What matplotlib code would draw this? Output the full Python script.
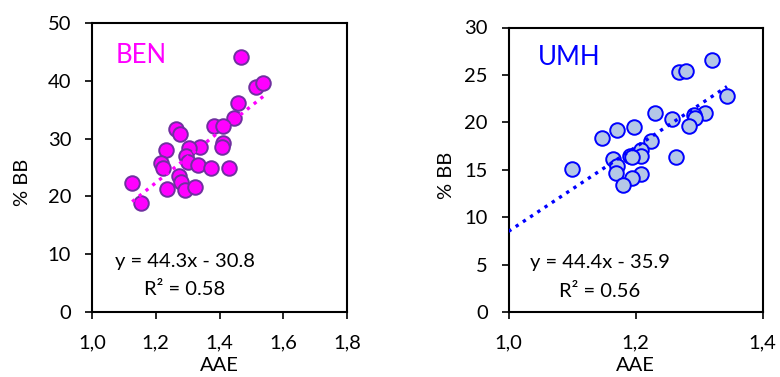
import matplotlib
matplotlib.use("Agg")
import matplotlib.pyplot as plt
import numpy as np

plt.rcParams['font.family'] = ['Lato', 'DejaVu Sans']

# BEN site: absorption Angstrom exponent vs. % biomass burning
ben_aae = [1.468, 1.515, 1.537, 1.457, 1.445, 1.382, 1.412, 1.262, 1.277, 1.410,
           1.408, 1.340, 1.304, 1.231, 1.296, 1.301, 1.216, 1.223, 1.332, 1.374,
           1.431, 1.272, 1.280, 1.126, 1.236, 1.293, 1.322, 1.155]
ben_bb = [44.2, 39.0, 39.6, 36.1, 33.5, 32.2, 32.1, 31.7, 30.8, 29.3,
          28.5, 28.6, 28.3, 28.0, 27.0, 26.0, 25.8, 24.9, 25.4, 25.0,
          25.0, 23.6, 22.5, 22.4, 21.3, 21.1, 21.6, 18.9]
ben_slope, ben_icpt, ben_r2 = 44.3, -30.8, 0.58

# UMH site
umh_aae = [1.321, 1.268, 1.280, 1.344, 1.231, 1.310, 1.292, 1.258, 1.293, 1.284,
           1.197, 1.171, 1.147, 1.225, 1.209, 1.208, 1.191, 1.195, 1.264, 1.164,
           1.171, 1.169, 1.100, 1.209, 1.195, 1.181]
umh_bb = [26.6, 25.3, 25.4, 22.8, 21.0, 21.0, 20.8, 20.4, 20.5, 19.6,
          19.5, 19.2, 18.4, 18.0, 17.1, 16.4, 16.5, 16.3, 16.3, 16.1,
          15.4, 14.7, 15.1, 14.6, 14.1, 13.4]
umh_slope, umh_icpt, umh_r2 = 44.4, -35.9, 0.56

ben_xticks = [1.0, 1.2, 1.4, 1.6, 1.8]
ben_yticks = [0, 10, 20, 30, 40, 50]
umh_xticks = [1.0, 1.2, 1.4]
umh_yticks = [0, 5, 10, 15, 20, 25, 30]

fig = plt.figure(figsize=(7.8, 3.77), dpi=100)
ax1 = fig.add_axes([92 / 780, 65 / 377, 255 / 780, 289 / 377])
ax2 = fig.add_axes([508.5 / 780, 65 / 377, 254 / 780, 284.5 / 377])

FS = 14.5


def style(ax, xticks, yticks, xlab_y, ylab_x, ylab_y):
    ax.set_xlim(xticks[0], xticks[-1])
    ax.set_ylim(yticks[0], yticks[-1])
    ax.set_xticks(xticks)
    ax.set_yticks(yticks)
    ax.set_xticklabels([f"{t:.1f}".replace('.', ',') for t in xticks])
    ax.set_yticklabels([str(t) for t in yticks])
    for s in ax.spines.values():
        s.set_linewidth(1.5)
        s.set_color('black')
    ax.tick_params(direction='out', length=5, width=1.2, labelsize=FS,
                   top=False, right=False)
    ax.tick_params(axis='x', pad=11)
    ax.tick_params(axis='y', pad=10)
    ax.set_xlabel('AAE', fontsize=FS, va='center')
    ax.set_ylabel('% BB', fontsize=FS, va='center')
    ax.xaxis.set_label_coords(0.5, xlab_y)
    ax.yaxis.set_label_coords(ylab_x, ylab_y)


# BEN panel
ax1.scatter(ben_aae, ben_bb, s=110, c='#FF00FF', edgecolors='#7030A0',
            linewidths=1.4, zorder=3)
xl = np.array([min(ben_aae), max(ben_aae)])
ax1.plot(xl, ben_slope * xl + ben_icpt, color='#FF00FF', lw=2.4,
         linestyle=(0, (1, 1.6)), zorder=4)
style(ax1, ben_xticks, ben_yticks, -0.185, -0.272, 0.45)
ax1.text(0.094, 0.862, 'BEN', color='#FF00FF', fontsize=18.5,
         transform=ax1.transAxes, ha='left', va='baseline')
ax1.text(0.365, 0.156, f'y = {ben_slope}x - {abs(ben_icpt)}', fontsize=FS,
         transform=ax1.transAxes, ha='center', va='baseline')
ax1.text(0.365, 0.059, f'R² = {ben_r2}', fontsize=FS,
         transform=ax1.transAxes, ha='center', va='baseline')

# UMH panel
ax2.scatter(umh_aae, umh_bb, s=110, c='#B4C7E7', edgecolors='#0000FF',
            linewidths=1.4, zorder=3)
xl = np.array([umh_xticks[0], max(umh_aae)])
ax2.plot(xl, umh_slope * xl + umh_icpt, color='#0000FF', lw=2.4,
         linestyle=(0, (1, 1.6)), zorder=4)
style(ax2, umh_xticks, umh_yticks, -0.188, -0.246, 0.48)
ax2.text(0.116, 0.868, 'UMH', color='#0000FF', fontsize=18.5,
         transform=ax2.transAxes, ha='left', va='baseline')
ax2.text(0.36, 0.155, f'y = {umh_slope}x - {abs(umh_icpt)}', fontsize=FS,
         transform=ax2.transAxes, ha='center', va='baseline')
ax2.text(0.36, 0.053, f'R² = {umh_r2}', fontsize=FS,
         transform=ax2.transAxes, ha='center', va='baseline')

fig.savefig('out.png', dpi=100)
